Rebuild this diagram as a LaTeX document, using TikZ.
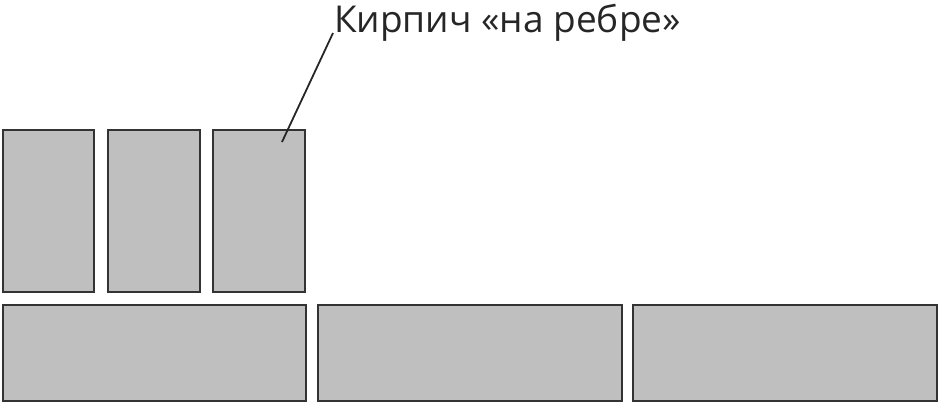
\documentclass[tikz,border=0pt]{standalone}
\usepackage{fontspec}
\setmainfont{Open Sans}
\begin{document}
\begin{tikzpicture}[x=1pt,y=-1pt,
  brick/.style={draw=black!80,fill=black!25,line width=2.3pt,inner sep=0pt,minimum width=0pt},
  lbl/.style={font=\fontsize{37}{40}\selectfont,text=black!85,inner sep=0pt,anchor=base west}]
\useasboundingbox (0,0) rectangle (938,402);
\node[brick,minimum width=91pt,minimum height=162pt,anchor=north west] (v1) at (2,129) {};
\node[brick,minimum width=92pt,minimum height=162pt,anchor=north west] (v2) at (107,129) {};
\node[brick,minimum width=92pt,minimum height=162pt,anchor=north west] (v3) at (212,129) {};
\node[brick,minimum width=303pt,minimum height=96pt,anchor=north west] (h1) at (2,304) {};
\node[brick,minimum width=304pt,minimum height=96pt,anchor=north west] (h2) at (317,304) {};
\node[brick,minimum width=304pt,minimum height=96pt,anchor=north west] (h3) at (632,304) {};
\node[lbl] (t) at (334,32) {Кирпич «на ребре»};
\coordinate (p) at (282,142);
\draw[line width=1.8pt,black!85] (t.base west) ++(-1,1) -- (p);
\end{tikzpicture}
\end{document}
